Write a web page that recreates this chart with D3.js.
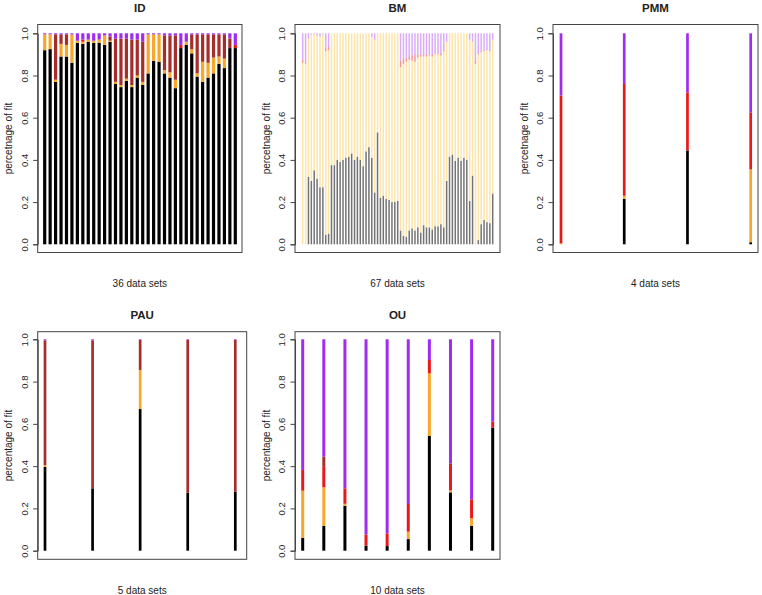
<!DOCTYPE html>
<html><head><meta charset="utf-8">
<script src="https://cdn.jsdelivr.net/npm/d3@7"></script>
<style>
html,body{margin:0;padding:0;background:#fff;}
text{font-family:"Liberation Sans",Arial,Helvetica,sans-serif;fill:#222;}
</style></head>
<body>
<svg id="chart" width="762" height="595"></svg>
<script>
// ---------- DATA ----------
const seriesKeys = ["black", "orange", "red", "brown", "purple"];
const yTicks = [0, 0.2, 0.4, 0.6, 0.8, 1.0];

// ID: 36 data sets
const idBlack  = [.92,.925,.77,.89,.89,.86,.955,.95,.96,.955,.955,.945,.96,.76,.745,.775,.745,.79,.755,.81,.87,.865,.81,.79,.74,.93,.945,.905,.795,.77,.79,.81,.855,.835,.93,.93];
const idOrange = [.075,.07,.01,.06,.055,.135,.01,.01,.01,.01,.015,.045,.005,.01,.01,.01,.01,.01,.015,.185,.125,.13,.015,.025,.04,0,.015,.02,.015,.095,.07,.075,.035,.045,0,0];
const idRed    = [0,0,0,0,0,0,0,.01,0,0,0,0,0,0,0,0,0,0,0,0,0,0,0,0,0,.015,0,0,0,0,0,0,0,0,0,.015];
const idBrown  = [0,0,.215,.045,.05,0,0,0,0,0,0,0,.02,.205,.22,.19,.215,.17,.19,0,0,0,.165,.175,.21,0,0,.07,.185,.13,.135,.11,.105,.115,.045,0];
const idPurple = [.005,.005,.005,.005,.005,.005,.035,.03,.03,.035,.03,.01,.015,.025,.025,.025,.03,.03,.04,.005,.005,.005,.01,.01,.01,.055,.04,.005,.005,.005,.005,.005,.005,.005,.025,.055];

// BM: 67 data sets
const bmBlack  = [0,0,.32,.30,.35,.31,.27,.27,.045,.05,.375,.375,.40,.39,.40,.41,.415,.43,.40,.415,.40,.37,.44,.46,.41,.245,.53,.22,.23,.215,.21,.20,.20,.205,.065,.04,.035,.065,.075,.065,.08,.055,.09,.08,.08,.07,.085,.085,.095,.08,.30,.415,.425,.395,.41,.395,.41,.40,.205,.325,0,.02,.095,.115,.105,.10,.24];
const bmOrange = [.86,.855,.655,.695,.645,.68,.715,.725,.87,.87,.625,.625,.60,.61,.60,.59,.585,.57,.60,.585,.60,.63,.56,.54,.575,.725,.47,.78,.77,.785,.79,.80,.80,.795,.775,.815,.83,.81,.795,.80,.805,.835,.80,.81,.815,.82,.815,.815,.80,.835,.66,.585,.575,.605,.59,.605,.59,.60,.765,.635,.855,.88,.815,.80,.815,.815,.73];
const bmRed    = [.015,.005,0,0,0,0,0,0,.015,.015,0,0,0,0,0,0,0,0,0,0,0,0,0,0,0,0,0,0,0,0,0,0,0,0,.03,.025,.02,.015,.025,.035,.015,.01,.01,.01,.005,.01,.005,.005,.01,.005,0,0,0,0,0,0,0,0,0,0,.015,.005,.005,.005,0,.005,0];
const bmBrown  = new Array(67).fill(0);
const bmPurple = [.125,.14,.025,.005,.005,.01,.015,.005,.07,.065,0,0,0,0,0,0,0,0,0,0,0,0,0,0,.015,.03,0,0,0,0,0,0,0,0,.13,.12,.115,.11,.105,.10,.10,.10,.10,.10,.10,.10,.095,.095,.095,.08,.04,0,0,0,0,0,0,0,.03,.04,.13,.095,.085,.08,.08,.08,.03];

// PMM: 4 data sets
const pmmBlack  = [0,.215,.445,.01];
const pmmOrange = [.005,.015,0,.345];
const pmmRed    = [.70,.53,.275,.27];
const pmmBrown  = [0,0,0,0];
const pmmPurple = [.295,.24,.28,.375];

// PAU: 5 data sets
const pauBlack  = [.397,.295,.67,.274,.279];
const pauOrange = [.008,0,.185,0,0];
const pauRed    = [0,0,0,0,0];
const pauBrown  = [.59,.70,.142,.723,.718];
const pauPurple = [.005,.005,.003,.003,.003];

// OU: 10 data sets
const ouBlack  = [.06,.117,.213,.024,.022,.055,.543,.276,.118,.582];
const ouOrange = [.224,.183,.009,0,0,.035,.296,.009,.035,0];
const ouRed    = [.098,.10,.073,.053,.06,.131,.063,.12,.09,.028];
const ouBrown  = [0,.045,0,0,0,0,0,.008,0,0];
const ouPurple = [.618,.555,.705,.923,.918,.779,.098,.587,.757,.39];

// ---------- STYLE / LAYOUT ----------
const fullColors = {black:"#000000", orange:"#F7A72C", red:"#E8191C", brown:"#A52E2C", purple:"#A02CEE"};
const fadedColors = {black:"rgba(0,0,0,0.55)", orange:"rgba(250,190,50,0.42)", red:"rgba(232,25,28,0.45)", brown:"rgba(165,46,44,0.45)", purple:"rgba(160,44,238,0.4)"};

function makeRows(b,o,r,br,p){ return b.map((v,i)=>({black:v, orange:o[i], red:r[i], brown:br[i], purple:p[i]})); }

const panels = [
  {title:"ID",  xlab:"36 data sets", ylab:"percetnage of fit", rows:makeRows(idBlack,idOrange,idRed,idBrown,idPurple),
   box:[37.7,24.5,242,252.5], yr:[244.3,33.3], xr:[44.7,235.3], w:3.2, colors:fullColors},
  {title:"BM",  xlab:"67 data sets", ylab:"percetnage of fit", rows:makeRows(bmBlack,bmOrange,bmRed,bmBrown,bmPurple),
   box:[295,24.5,500,252.5], yr:[244.3,33.3], xr:[302.7,492.7], w:1.5, colors:fadedColors},
  {title:"PMM", xlab:"4 data sets",  ylab:"percetnage of fit", rows:makeRows(pmmBlack,pmmOrange,pmmRed,pmmBrown,pmmPurple),
   box:[553,24.5,758,252.5], yr:[244.3,33.3], xr:[561,750.7], w:2.7, colors:fullColors},
  {title:"PAU", xlab:"5 data sets",  ylab:"percentage of fit", rows:makeRows(pauBlack,pauOrange,pauRed,pauBrown,pauPurple),
   box:[37.7,331.7,246.7,559.3], yr:[550.7,339.3], xr:[45,235.3], w:2.7, colors:fullColors},
  {title:"OU",  xlab:"10 data sets", ylab:"percentage of fit", rows:makeRows(ouBlack,ouOrange,ouRed,ouBrown,ouPurple),
   box:[295,331.7,500,559.3], yr:[550.7,339.3], xr:[302.7,492.7], w:3.0, colors:fullColors},
];

const svg = d3.select("#chart");
const stack = d3.stack().keys(seriesKeys);

panels.forEach(p => {
  const [bx0,by0,bx1,by1] = p.box;
  const n = p.rows.length;
  const y = d3.scaleLinear().domain([0,1]).range(p.yr);
  const x = d3.scaleLinear().domain([0,n-1]).range(p.xr);
  const g = svg.append("g");

  // bars
  const layers = stack(p.rows);
  layers.forEach(layer => {
    g.append("g").selectAll("rect").data(layer).join("rect")
      .attr("x", (d,i) => x(i) - p.w/2)
      .attr("width", p.w)
      .attr("y", d => y(d[1]))
      .attr("height", d => Math.max(0, y(d[0]) - y(d[1])))
      .attr("fill", p.colors[layer.key]);
  });

  // box
  g.append("rect").attr("x",bx0).attr("y",by0).attr("width",bx1-bx0).attr("height",by1-by0)
    .attr("fill","none").attr("stroke","#444").attr("stroke-width",1);

  // y axis
  const ax = g.append("g").attr("transform",`translate(${bx0},0)`)
    .call(d3.axisLeft(y).tickValues(yTicks).tickFormat(d3.format(".1f")).tickSize(4.5));
  ax.select(".domain").attr("stroke","#444");
  ax.selectAll(".tick line").attr("stroke","#444");
  ax.selectAll(".tick text")
    .attr("x",0).attr("dy","0.35em")
    .attr("transform","translate(-13,0) rotate(-90)")
    .attr("text-anchor","middle")
    .style("font-size","9.5px")
    .style("font-family","'Liberation Sans',Arial,sans-serif")
    .attr("fill","#222");

  // title
  const cx = (bx0+bx1)/2;
  g.append("text").attr("x",cx).attr("y",by0-12.5).attr("text-anchor","middle")
    .style("font-weight","bold").style("font-size","11.5px").text(p.title);
  // x label
  g.append("text").attr("x",cx).attr("y",by1+34.5).attr("text-anchor","middle")
    .style("font-size","10px").text(p.xlab);
  // y label
  const cy = (by0+by1)/2;
  g.append("text").attr("transform",`translate(${bx0-29},${cy}) rotate(-90)`)
    .attr("dy","0.35em").attr("text-anchor","middle")
    .style("font-size","10px").text(p.ylab);
});
</script>
</body></html>
